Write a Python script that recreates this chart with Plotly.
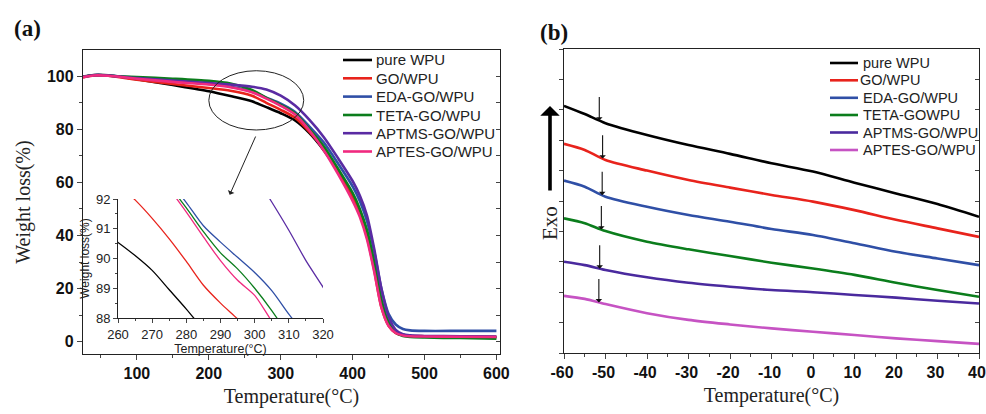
import numpy as np
import plotly.graph_objects as go

W, H = 986, 414
OFF = 0  # page body margin removed (see write_html below)

# ---------------- (a) TGA data ----------------
tga_temp = [25, 40, 60, 100, 150, 200, 230, 260, 280, 300, 320, 340, 360, 380, 400,
            410, 420, 430, 440, 450, 460, 470, 480, 500, 550, 600]
tga_pure = [99.8, 100.4, 100.3, 98.8, 96.6, 94.3, 92.5, 90.5, 88.3, 86.0, 83.3, 78.5, 72.0, 64.0, 55.0,
            49.0, 41.0, 29.0, 15.0, 7.0, 3.8, 2.6, 2.2, 2.0, 1.8, 1.7]
tga_go = [99.5, 100.2, 100.1, 98.6, 97.0, 95.5, 94.5, 92.6, 89.9, 87.3, 84.3, 79.0, 72.5, 64.0, 54.5,
          48.0, 39.5, 27.0, 13.0, 6.0, 3.3, 2.5, 2.2, 2.1, 2.0, 1.9]
tga_eda = [99.7, 100.3, 100.2, 99.3, 98.2, 97.0, 96.0, 94.3, 91.9, 89.6, 86.5, 81.0, 75.0, 67.0, 58.5,
           53.0, 45.5, 34.0, 20.0, 10.5, 6.5, 4.8, 4.3, 4.1, 4.1, 4.1]
tga_teta = [99.8, 100.2, 100.1, 99.6, 99.0, 98.2, 97.2, 94.8, 91.8, 89.1, 86.0, 80.0, 73.5, 65.0, 56.0,
            50.0, 42.0, 30.0, 16.0, 7.5, 3.5, 2.2, 1.8, 1.6, 1.4, 1.2]
tga_aptms = [99.7, 100.3, 100.2, 99.2, 98.3, 97.4, 96.8, 96.0, 94.9, 92.6, 88.9, 83.5, 77.0, 69.0, 60.5,
             55.0, 47.5, 35.0, 20.0, 9.5, 4.5, 2.8, 2.4, 2.2, 2.1, 2.0]
tga_aptes = [99.6, 100.2, 100.1, 99.0, 97.8, 96.8, 95.8, 93.9, 91.5, 88.8, 85.5, 79.5, 72.0, 63.0, 53.0,
             47.0, 38.5, 26.5, 13.0, 6.0, 3.3, 2.4, 2.1, 2.0, 1.9, 1.8]

# inset (zoom 260-320 °C)
inset_temp = [255, 260, 265, 270, 275, 280, 285, 290, 295, 300, 305, 310, 315, 320, 325]
inset_pure = [90.95, 90.54, 90.1, 89.6, 88.95, 88.3, 87.6, None, None, None, None, None, None, None, None]
inset_go = [None, 92.5, 91.97, 91.35, 90.66, 89.9, 89.1, 88.5, 87.97, 87.4, None, None, None, None, None]
inset_eda = [None, None, None, None, 92.6, 91.88, 91.1, 90.55, 90.04, 89.53, 88.92, 88.13, 87.4, None, None]
inset_teta = [None, None, None, None, 92.45, 91.7, 90.9, 90.19, 89.65, 89.0, 88.25, 87.4, None, None, None]
inset_aptms = [None, None, None, None, None, None, None, None, None, 92.8, 91.9, 90.95, 89.93, 89.04, 88.1]
inset_aptes = [None, None, None, None, 92.35, 91.56, 90.73, 89.93, 89.27, 88.76, 87.9, 87.2, None, None, None]

tga_names = ["pure WPU", "GO/WPU", "EDA-GO/WPU", "TETA-GO/WPU", "APTMS-GO/WPU", "APTES-GO/WPU"]
tga_colors = ["#000000", "#e8231c", "#2f4fa6", "#0b7d1c", "#5a2ba3", "#f02a7f"]

# ---------------- (b) DSC data ----------------
dsc_temp = [-60, -55, -50, -40, -30, -20, -10, 0, 10, 20, 30, 40]
dsc_pure = [81.3, 78.6, 75.6, 71.7, 68.4, 65.5, 62.4, 59.7, 56.0, 52.5, 49.0, 44.8]
dsc_go = [68.8, 66.8, 63.5, 60.0, 56.9, 54.4, 52.0, 49.8, 47.0, 43.8, 41.0, 38.2]
dsc_eda = [56.7, 54.7, 51.4, 48.1, 45.4, 43.2, 40.8, 38.8, 36.1, 33.3, 31.1, 28.9]
dsc_teta = [44.3, 42.7, 40.1, 36.6, 34.1, 31.9, 29.7, 27.8, 25.7, 23.1, 20.7, 18.5]
dsc_aptms = [30.0, 28.9, 27.3, 24.9, 23.1, 21.8, 20.7, 20.0, 19.1, 18.2, 17.2, 16.3]
dsc_aptes = [18.8, 17.8, 16.1, 13.1, 10.9, 9.4, 8.1, 7.0, 5.9, 4.8, 3.9, 3.0]
dsc_tg = [-51.5, -50.7, -50.8, -51.0, -51.4, -51.6]
dsc_names = ["pure WPU", "GO/WPU", "EDA-GO/WPU", "TETA-GOWPU", "APTMS-GO/WPU", "APTES-GO/WPU"]
dsc_colors = ["#000000", "#e8231c", "#2f4fa6", "#0b7d1c", "#4a2a9e", "#c653c3"]
dsc_ticks = [-60, -50, -40, -30, -20, -10, 0, 10, 20, 30, 40]

SANS = "Liberation Sans, Arial, sans-serif"
SERIF = "Liberation Serif, Times New Roman, serif"


def px_x(p):
    return (p - OFF) / W


def px_y(p):
    return 1 - (p - OFF) / H


fig = go.Figure()

tga_series = [tga_pure, tga_go, tga_eda, tga_teta, tga_aptms, tga_aptes]
for name, col, vals in zip(tga_names, tga_colors, tga_series):
    fig.add_trace(go.Scatter(x=tga_temp, y=vals, name=name, mode="lines", showlegend=False,
                             line=dict(color=col, width=2.6, shape="spline", smoothing=0.7),
                             xaxis="x", yaxis="y"))

inset_series = [inset_pure, inset_go, inset_eda, inset_teta, inset_aptms, inset_aptes]
for name, col, vals in zip(tga_names, tga_colors, inset_series):
    fig.add_trace(go.Scatter(x=inset_temp, y=vals, name=name, mode="lines", showlegend=False,
                             line=dict(color=col, width=1.3, shape="spline", smoothing=0.8),
                             xaxis="x2", yaxis="y2"))

dsc_series = [dsc_pure, dsc_go, dsc_eda, dsc_teta, dsc_aptms, dsc_aptes]
for name, col, vals in zip(dsc_names, dsc_colors, dsc_series):
    fig.add_trace(go.Scatter(x=dsc_temp, y=vals, name=name, mode="lines", showlegend=False,
                             line=dict(color=col, width=2.6, shape="spline", smoothing=0.8),
                             xaxis="x3", yaxis="y3"))

# empty traces to activate mirror (right-side, inside-tick) axes
fig.add_trace(go.Scatter(x=[], y=[], xaxis="x", yaxis="y4", showlegend=False))
fig.add_trace(go.Scatter(x=[], y=[], xaxis="x3", yaxis="y5", showlegend=False))

annotations = []
shapes = []

# arrows marking Tg on DSC curves
for tg, vals in zip(dsc_tg, dsc_series):
    yv = float(np.interp(tg, dsc_temp, vals))
    annotations.append(dict(x=tg, y=yv, ax=tg, ay=yv + 8.2, xref="x3", yref="y3",
                            axref="x3", ayref="y3", showarrow=True, arrowhead=1,
                            arrowsize=1.0, arrowwidth=1.1, arrowcolor="#111", text=""))

# big Exo arrow and text
annotations.append(dict(x=px_x(550), y=px_y(106), xref="paper", yref="paper",
                        ax=0, ay=86, showarrow=True, arrowhead=1, arrowsize=0.9,
                        arrowwidth=3.6, arrowcolor="#000", text=""))
annotations.append(dict(x=px_x(550), y=px_y(223), xref="paper", yref="paper", text="Exo",
                        textangle=-90, showarrow=False, xanchor="center", yanchor="middle",
                        font=dict(family=SERIF, size=21, color="#222")))
# inset arrow
annotations.append(dict(x=229, y=55.3, ax=266, ay=77.8, xref="x", yref="y", axref="x", ayref="y",
                        showarrow=True, arrowhead=1, arrowsize=1.2, arrowwidth=1.0,
                        arrowcolor="#222", text=""))
# panel labels
annotations.append(dict(x=px_x(27), y=px_y(29), xref="paper", yref="paper", text="<b>(a)</b>",
                        showarrow=False, xanchor="center", yanchor="middle",
                        font=dict(family=SERIF, size=23, color="#111")))
annotations.append(dict(x=px_x(554), y=px_y(32), xref="paper", yref="paper", text="<b>(b)</b>",
                        showarrow=False, xanchor="center", yanchor="middle",
                        font=dict(family=SERIF, size=23, color="#111")))

# legends (drawn as sample lines + text)
leg_a_rows = [60, 78.3, 96.6, 115, 133.2, 151.5]
for name, col, ry in zip(tga_names, tga_colors, leg_a_rows):
    shapes.append(dict(type="line", xref="paper", yref="paper",
                       x0=px_x(343), x1=px_x(372), y0=px_y(ry), y1=px_y(ry),
                       line=dict(color=col, width=2.6)))
    annotations.append(dict(x=px_x(374), y=px_y(ry), xref="paper", yref="paper", text=name,
                            showarrow=False, xanchor="left", yanchor="middle",
                            font=dict(family=SANS, size=15, color="#222")))
leg_b_rows = [63, 80.3, 97.8, 115, 132.5, 150]
for name, col, ry in zip(dsc_names, dsc_colors, leg_b_rows):
    shapes.append(dict(type="line", xref="paper", yref="paper",
                       x0=px_x(830), x1=px_x(858), y0=px_y(ry), y1=px_y(ry),
                       line=dict(color=col, width=2.6)))
    annotations.append(dict(x=px_x(858 if name == "GO/WPU" else 861), y=px_y(ry),
                            xref="paper", yref="paper", text=name,
                            showarrow=False, xanchor="left", yanchor="middle",
                            font=dict(family=SANS, size=14.5, color="#222")))

shapes.append(dict(type="circle", xref="x", yref="y", x0=200, x1=332, y0=79.7, y1=102,
                   line=dict(color="#222", width=1)))

tickfont_b = dict(family=SANS, size=16, color="#111", weight="bold")
title_font = dict(family=SERIF, size=20, color="#222")
axline = dict(showline=True, linecolor="#222", linewidth=1.3, showgrid=False, zeroline=False,
              automargin=False)

fig.update_layout(
    width=W, height=H, margin=dict(l=0, r=0, t=0, b=0, autoexpand=False),
    paper_bgcolor="white", plot_bgcolor="rgba(0,0,0,0)",
    showlegend=False,
    annotations=annotations,
    shapes=shapes,
    xaxis=dict(domain=[px_x(83), px_x(500)], anchor="y", range=[25, 605],
               tick0=0, dtick=100, ticks="outside", ticklen=5, tickwidth=1.2,
               minor=dict(ticks="outside", ticklen=3, dtick=50, tick0=0),
               tickfont=tickfont_b, mirror=True, ticklabeloverflow="allow",
               title=dict(text="Temperature(°C)", font=title_font, standoff=7), **axline),
    yaxis=dict(domain=[px_y(354), px_y(50)], anchor="x", range=[-4.6, 109.8],
               tick0=0, dtick=20, ticks="outside", ticklen=5, tickwidth=1.2,
               minor=dict(ticks="outside", ticklen=3, dtick=10, tick0=0),
               tickfont=tickfont_b, mirror=True, ticklabeloverflow="allow",
               title=dict(text="Weight loss(%)", font=title_font, standoff=10), **axline),
    yaxis4=dict(overlaying="y", side="right", anchor="x", range=[-4.6, 109.8],
                tick0=0, dtick=10, ticks="inside", ticklen=4, showticklabels=False,
                showgrid=False, zeroline=False, showline=False, automargin=False),
    xaxis2=dict(domain=[px_x(118), px_x(323)], anchor="y2", range=[260, 320],
                dtick=10, ticks="outside", ticklen=4,
                minor=dict(ticks="outside", ticklen=2, dtick=5),
                tickfont=dict(family=SANS, size=13, color="#222"),
                title=dict(text="Temperature(°C)", font=dict(family=SANS, size=12.5, color="#222"),
                           standoff=1),
                showline=True, linecolor="#222", linewidth=1, showgrid=False, zeroline=False,
                automargin=False),
    yaxis2=dict(domain=[px_y(318), px_y(199)], anchor="x2", range=[88, 92],
                dtick=1, ticks="outside", ticklen=4,
                minor=dict(ticks="outside", ticklen=2, dtick=0.5),
                tickfont=dict(family=SANS, size=13, color="#222"),
                title=dict(text="Weight loss(%)", font=dict(family=SANS, size=12, color="#222"),
                           standoff=3),
                showline=True, linecolor="#222", linewidth=1, showgrid=False, zeroline=False,
                automargin=False),
    xaxis3=dict(domain=[px_x(564), px_x(979)], anchor="y3", range=[-60, 40],
                tickmode="array", tickvals=dsc_ticks, ticktext=[str(t) for t in dsc_ticks],
                ticks="outside", ticklen=5, tickwidth=1.2,
                minor=dict(ticks="outside", ticklen=3,
                           tickvals=[t + 5 for t in dsc_ticks[:-1]]),
                tickfont=tickfont_b, mirror=True, ticklabeloverflow="allow",
                ticklabelshift=-2,
                title=dict(text="Temperature(°C)", font=title_font, standoff=7), **axline),
    yaxis3=dict(domain=[px_y(353), px_y(49)], anchor="x3", range=[0, 100],
                dtick=10, ticks="outside", ticklen=4, showticklabels=False, mirror=True,
                **axline),
    yaxis5=dict(overlaying="y3", side="right", anchor="x3", range=[0, 100],
                dtick=10, ticks="inside", ticklen=4, showticklabels=False,
                showgrid=False, zeroline=False, showline=False, automargin=False),
)

fig.write_html("out.html", config={"displayModeBar": False},
               post_script="document.body.style.margin='0';document.body.style.overflow='hidden';")
